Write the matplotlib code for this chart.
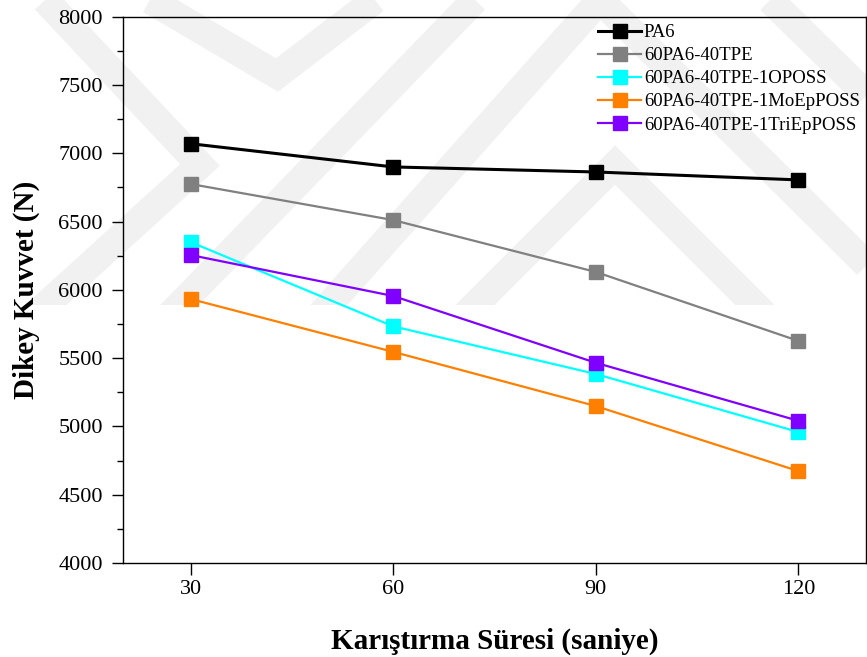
import matplotlib
matplotlib.use("Agg")
import matplotlib.pyplot as plt
from matplotlib.patches import Rectangle
from matplotlib.ticker import MultipleLocator

# ---- data ----
mix_time = [30, 60, 90, 120]
pa6 = [7070, 6900, 6863, 6805]
pa6_tpe = [6775, 6511, 6131, 5626]
oposs = [6350, 5733, 5384, 4959]
moeposs = [5933, 5546, 5149, 4673]
trieposs = [6255, 5955, 5466, 5041]

series_labels = ["PA6", "60PA6-40TPE", "60PA6-40TPE-1OPOSS",
                 "60PA6-40TPE-1MoEpPOSS", "60PA6-40TPE-1TriEpPOSS"]
series_values = [pa6, pa6_tpe, oposs, moeposs, trieposs]
series_colors = ["#000000", "#808080", "#00ffff", "#ff8000", "#8000ff"]
series_lw = [2.2, 1.6, 1.6, 1.6, 1.6]

x_ticks = [30, 60, 90, 120]
xlabel = "Karıştırma Süresi (saniye)"
ylabel = "Dikey Kuvvet (N)"

plt.rcParams['font.family'] = ['Liberation Serif', 'DejaVu Serif']

W, H = 867, 657
fig = plt.figure(figsize=(W / 100, H / 100), dpi=100)

# ---- faint watermark (background decoration) ----
bg = fig.add_axes([0, 0, 1, 1], zorder=0)
bg.set_xlim(0, W)
bg.set_ylim(H, 0)
bg.axis('off')
bands = [
    [(45, 0), (200, 165), (35, 315)],
    [(150, 0), (277, 75), (375, 0)],
    [(170, 315), (475, 0)],
    [(320, 315), (600, 0)],
    [(465, 315), (615, 165), (765, 315)],
    [(600, 0), (867, 265)],
    [(770, 0), (867, 95)],
]
clip = Rectangle((0, 0), W, 305, transform=bg.transData)
for b in bands:
    xs = [p[0] for p in b]
    ys = [p[1] for p in b]
    ln, = bg.plot(xs, ys, color='#f1f1f1', lw=20, solid_capstyle='butt',
                  solid_joinstyle='miter')
    ln.set_clip_path(clip)

# ---- main axes ----
ax = fig.add_axes([123 / W, 1 - 563 / H, (866 - 123) / W, (563 - 16.7) / H], zorder=1)
ax.set_facecolor('none')

for vals, lab, col, lw in zip(series_values, series_labels, series_colors, series_lw):
    ax.plot(mix_time, vals, color=col, lw=lw, marker='s', markersize=9.5,
            markeredgecolor=col, markerfacecolor=col, label=lab)

ax.set_xlim(20, 130)
ax.set_ylim(4000, 8000)
ax.set_xticks(x_ticks)
ax.yaxis.set_major_locator(MultipleLocator(500))
ax.yaxis.set_minor_locator(MultipleLocator(250))
ax.tick_params(axis='y', which='major', direction='out', length=8, width=1,
               labelsize=16, pad=6.5)
ax.tick_params(axis='y', which='minor', direction='out', length=4.5, width=1)
ax.tick_params(axis='x', which='major', direction='out', length=8.5, width=1,
               labelsize=16, pad=3.5)
for s in ax.spines.values():
    s.set_linewidth(1.0)
    s.set_color('black')

ax.set_xlabel(xlabel, fontsize=21, fontweight='bold', labelpad=21)
ax.set_ylabel(ylabel, fontsize=21, fontweight='bold', labelpad=13)

leg = ax.legend(loc='upper left', bbox_to_anchor=(598 / W, 1 - 24 / H),
                bbox_transform=fig.transFigure, frameon=False, fontsize=13.5,
                borderpad=0, borderaxespad=0, handlelength=2.3, handletextpad=0.15,
                labelspacing=0.32, markerscale=1.0)

fig.savefig("out.png", dpi=100)
